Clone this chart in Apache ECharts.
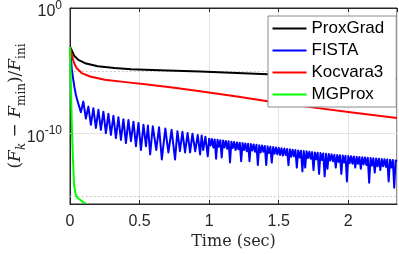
<!DOCTYPE html>
<html><head><meta charset="utf-8">
<script src="https://cdn.jsdelivr.net/npm/echarts@6/dist/echarts.min.js"></script>
<style>html,body{margin:0;padding:0;background:#fff}#c{width:399px;height:254px}</style>
</head><body><div id="c"></div>
<script>
// values are log10((F_k - F_min)/F_ini)
const seriesNames = ['ProxGrad', 'FISTA', 'Kocvara3', 'MGProx'];
const seriesColors = ['#000000', '#0000ff', '#ff0000', '#00ff00'];

const proxGradT = [0, 0.012, 0.03, 0.06, 0.108, 0.2, 0.32, 0.44, 0.54, 0.7, 0.935, 1.2, 1.42, 1.9, 2.35];
const proxGradLog = [-3.1, -3.35, -3.8, -4.13, -4.39, -4.64, -4.78, -4.87, -4.92, -4.98, -5.05, -5.17, -5.28, -5.5, -5.7];

const kocvaraT = [0, 0.012, 0.03, 0.048, 0.084, 0.144, 0.25, 0.4, 0.54, 0.75, 0.935, 1.2, 1.42, 1.7, 2.0, 2.35];
const kocvaraLog = [-3.1, -3.73, -4.4, -4.79, -5.18, -5.45, -5.71, -5.9, -6.06, -6.35, -6.63, -7.05, -7.43, -7.85, -8.27, -8.75];

const mgproxT = [0, 0.006, 0.014, 0.022, 0.029, 0.04, 0.05, 0.065, 0.079, 0.095, 0.113];
const mgproxLog = [-3.1, -6.0, -9.7, -12.2, -14.05, -14.8, -15.08, -15.2, -15.3, -15.45, -15.55];

const fistaT = [
  0, 0.006, 0.012, 0.022, 0.032, 0.042, 0.05, 0.06,
  0.078, 0.096, 0.114, 0.132, 0.15, 0.168, 0.186, 0.204, 0.222, 0.24, 0.258, 0.276,
  0.294, 0.312, 0.33, 0.348, 0.366, 0.384, 0.402, 0.42, 0.438, 0.456, 0.474, 0.492,
  0.51, 0.528, 0.546, 0.56, 0.576, 0.595, 0.62, 0.64, 0.66, 0.685, 0.707, 0.73,
  0.755, 0.772, 0.79, 0.808, 0.827, 0.845, 0.863, 0.88, 0.9, 0.918, 0.935, 0.946,
  0.957, 0.973, 0.99,
  1.00, 1.01, 1.02, 1.03, 1.04, 1.05, 1.06, 1.07, 1.08, 1.09,
  1.10, 1.11, 1.12, 1.13, 1.14, 1.15, 1.16, 1.17, 1.18, 1.19,
  1.20, 1.21, 1.22, 1.23, 1.24, 1.25, 1.26, 1.27, 1.28, 1.29,
  1.30, 1.31, 1.32, 1.33, 1.34, 1.35, 1.36, 1.37, 1.38, 1.39,
  1.40, 1.41, 1.42, 1.43, 1.44, 1.45, 1.46, 1.47, 1.48, 1.49,
  1.50, 1.51, 1.52, 1.53, 1.54, 1.55, 1.56, 1.57, 1.58, 1.59,
  1.60, 1.61, 1.62, 1.63, 1.64, 1.65, 1.66, 1.67, 1.68, 1.69,
  1.70, 1.71, 1.72, 1.73, 1.74, 1.75, 1.76, 1.77, 1.78, 1.79,
  1.80, 1.81, 1.82, 1.83, 1.84, 1.85, 1.86, 1.87, 1.88, 1.89,
  1.90, 1.91, 1.92, 1.93, 1.94, 1.95, 1.96, 1.97, 1.98, 1.99,
  2.00, 2.01, 2.02, 2.03, 2.04, 2.05, 2.06, 2.07, 2.08, 2.09,
  2.10, 2.11, 2.12, 2.13, 2.14, 2.15, 2.16, 2.17, 2.18, 2.19,
  2.20, 2.21, 2.22, 2.23, 2.24, 2.25, 2.26, 2.27, 2.28, 2.29,
  2.30, 2.31, 2.32, 2.33, 2.34, 2.35
];
const fistaLog = [
  -3.1, -3.8, -4.8, -5.6, -6.3, -6.9, -7.25, -7.15,
  -8.3, -7.45, -8.8, -7.85, -9.3, -7.98, -9.55, -8.1, -9.7, -8.25, -9.95, -8.42,
  -10.1, -8.58, -10.35, -8.7, -10.5, -8.85, -10.75, -8.92, -10.6, -9.05, -11.0, -9.15,
  -11.3, -9.3, -11.0, -9.35, -11.65, -9.42, -11.3, -9.5, -12.05, -9.6, -11.5, -9.7,
  -12.05, -9.8, -11.4, -9.85, -11.5, -9.95, -11.5, -10.0, -11.4, -10.1, -11.65, -10.15,
  -11.3, -10.25, -11.8,
  -10.40, -10.95, -10.43, -11.10, -10.46, -12.00, -10.49, -11.05, -10.52, -11.90,
  -10.55, -11.10, -10.58, -11.20, -10.61, -12.30, -10.64, -11.15, -10.67, -11.30,
  -10.70, -11.25, -10.72, -12.20, -10.75, -11.30, -10.78, -11.40, -10.80, -12.20,
  -10.83, -11.35, -10.86, -11.45, -10.89, -12.50, -10.92, -11.50, -10.95, -11.45,
  -10.98, -12.50, -11.01, -11.55, -11.04, -12.30, -11.07, -11.60, -11.10, -11.65,
  -11.13, -11.70, -11.16, -11.75, -11.19, -11.70, -11.22, -12.50, -11.25, -11.85,
  -11.28, -11.80, -11.31, -12.70, -11.34, -11.90, -11.36, -13.00, -11.38, -12.70,
  -11.41, -11.95, -11.44, -12.00, -11.47, -12.90, -11.50, -12.05, -11.52, -13.20,
  -11.55, -12.10, -11.58, -13.40, -11.60, -12.80, -11.63, -12.15, -11.65, -12.20,
  -11.68, -12.70, -11.70, -12.25, -11.72, -13.20, -11.74, -12.30, -11.76, -13.80,
  -11.78, -12.35, -11.80, -12.40, -11.82, -12.70, -11.84, -12.40, -11.86, -12.80,
  -11.88, -12.45, -11.90, -12.50, -11.92, -13.90, -11.94, -12.55, -11.96, -13.10,
  -11.98, -12.60, -12.00, -12.90, -12.02, -12.60, -12.04, -12.65, -12.06, -13.80,
  -12.08, -12.70, -12.10, -14.30, -12.14, -12.20
];

const xTickValues = [0, 0.5, 1, 1.5, 2];
const yTickExponents = [0, -10];
const yGridSolid = [-10];
const yGridDotted = [-5, -15];
const xRange = [0, 2.35];
const yRange = [-15.6, 0];

function zip(t, v) { return t.map((x, i) => [x, v[i]]); }

const axisColor = '#262626';
const chart = echarts.init(document.getElementById('c'), null, {renderer: 'canvas', width: 399, height: 254});

const seriesData = [zip(proxGradT, proxGradLog), zip(fistaT, fistaLog), zip(kocvaraT, kocvaraLog), zip(mgproxT, mgproxLog)];

const series = seriesNames.map((name, i) => ({
  name: name,
  type: 'line',
  data: seriesData[i],
  showSymbol: false,
  symbol: 'none',
  sampling: null,
  smooth: false,
  clip: true,
  z: 3,
  lineStyle: {color: seriesColors[i], width: 2, join: 'round'},
  itemStyle: {color: seriesColors[i]},
  emphasis: {disabled: true}
}));

series[0].markLine = {
  silent: true,
  z: 1,
  symbol: ['none', 'none'],
  label: {show: false},
  animation: false,
  emphasis: {disabled: true},
  data: [
    ...yGridSolid.map(v => ({yAxis: v, lineStyle: {type: 'solid', color: '#e3e3e3', width: 1}})),
    ...yGridDotted.map(v => ({yAxis: v, lineStyle: {type: [1.5, 2.5], color: '#bdbdbd', width: 1}}))
  ]
};

const option = {
  animation: false,
  backgroundColor: '#fff',
  grid: {left: 70, top: 8, right: 2, bottom: 50, show: true, borderColor: axisColor, borderWidth: 1, backgroundColor: '#fff', outerBoundsMode: 'none', containLabel: false},
  legend: {
    data: seriesNames, orient: 'vertical', left: 268, top: 16,
    padding: [4, 12, 4, 4.5], itemGap: 5, itemWidth: 34, itemHeight: 2, icon: 'rect',
    backgroundColor: '#fff', borderColor: '#8a8a8a', borderWidth: 1, borderRadius: 0,
    selectedMode: false,
    textStyle: {fontFamily: 'Liberation Sans', fontSize: 17, lineHeight: 16, color: '#000', padding: 0}
  },
  xAxis: [{
    type: 'value', min: xRange[0], max: xRange[1], interval: 0.5, position: 'bottom',
    axisLine: {show: true, onZero: false, lineStyle: {color: axisColor, width: 1}},
    axisTick: {show: true, inside: true, length: 4, lineStyle: {color: axisColor}},
    axisLabel: {show: true, margin: 10, fontFamily: 'Liberation Sans', fontSize: 16, color: axisColor,
      showMaxLabel: false, showMinLabel: true,
      formatter: v => (xTickValues.indexOf(v) >= 0 ? String(v) : '')},
    splitLine: {show: true, lineStyle: {color: '#e3e3e3', width: 1}},
    name: 'Time (sec)', nameLocation: 'middle', nameGap: 30, nameMoveOverlap: false,
    nameTextStyle: {fontFamily: 'DejaVu Serif', fontSize: 16, color: axisColor}
  }, {
    type: 'value', min: xRange[0], max: xRange[1], interval: 0.5, position: 'top',
    axisLine: {show: true, onZero: false, lineStyle: {color: axisColor, width: 1}},
    axisTick: {show: true, inside: true, length: 4, lineStyle: {color: axisColor}},
    axisLabel: {show: false}, splitLine: {show: false}
  }],
  yAxis: {
    type: 'value', min: yRange[0], max: yRange[1], splitNumber: 3, minInterval: 5, maxInterval: 5,
    axisLine: {show: true, onZero: false, lineStyle: {color: axisColor, width: 1}},
    axisTick: {show: false},
    splitLine: {show: false},
    axisLabel: {
      show: true, margin: 8, padding: [7, 0, 0, 0], color: axisColor,
      showMinLabel: true, showMaxLabel: true,
      formatter: function (v) {
        for (const e of yTickExponents) {
          if (Math.abs(v - e) < 1e-6) return '{b|10}{s|' + e + '}';
        }
        return '';
      },
      rich: {
        b: {fontFamily: 'Liberation Sans', fontSize: 16, lineHeight: 24, verticalAlign: 'middle', color: axisColor},
        s: {fontFamily: 'Liberation Sans', fontSize: 12, lineHeight: 8, verticalAlign: 'top', color: axisColor}
      }
    },
    name: '{p|(}{i|F}{s|k}{p| − }{i|F}{s2|min}{p|)/}{i|F}{s2|ini}',
    nameLocation: 'middle', nameRotate: 90, nameGap: 42, nameMoveOverlap: false,
    nameTextStyle: {
      color: axisColor,
      rich: {
        p: {fontFamily: 'DejaVu Serif', fontSize: 17, lineHeight: 24, verticalAlign: 'middle', color: axisColor},
        i: {fontFamily: 'DejaVu Serif', fontStyle: 'italic', fontSize: 17, lineHeight: 24, verticalAlign: 'middle', color: axisColor},
        s: {fontFamily: 'DejaVu Serif', fontStyle: 'italic', fontSize: 12, lineHeight: 12, verticalAlign: 'bottom', color: axisColor},
        s2: {fontFamily: 'DejaVu Serif', fontSize: 12, lineHeight: 12, verticalAlign: 'bottom', color: axisColor}
      }
    }
  },
  series: series
};
chart.setOption(option);
</script>
</body></html>
